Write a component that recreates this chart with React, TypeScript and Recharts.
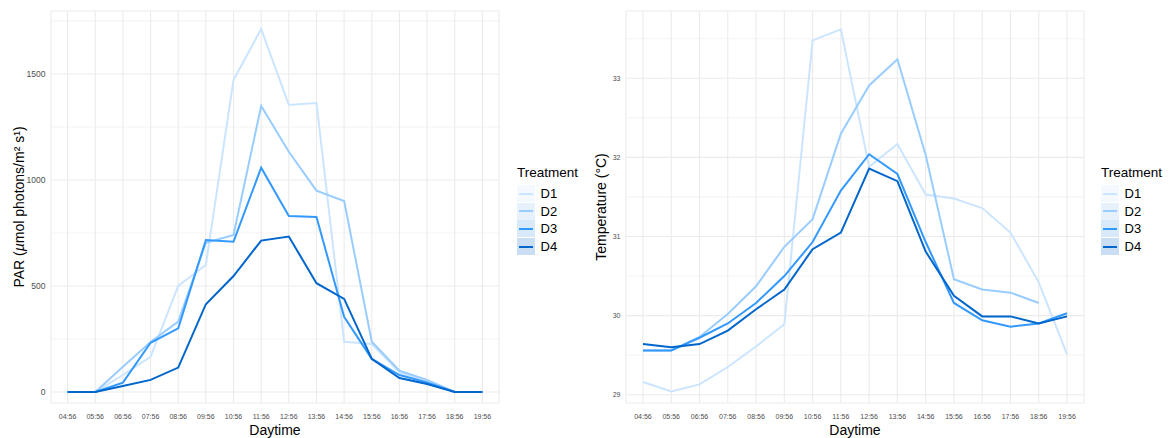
import { LineChart, Line, XAxis, YAxis, CartesianGrid, Legend } from "recharts";

/* ── data ── */

const times = [
  "04:56", "05:56", "06:56", "07:56", "08:56", "09:56", "10:56", "11:56",
  "12:56", "13:56", "14:56", "15:56", "16:56", "17:56", "18:56", "19:56",
];

const treatments = ["D1", "D2", "D3", "D4"];

// PAR (µmol photons/m² s¹)
const parD1 = [0, 0, 80, 166, 500, 599, 1472, 1712, 1354, 1363, 237, 226, 92, 48, 0, 0];
const parD2 = [0, 0, 119, 236, 332, 704, 741, 1349, 1133, 950, 901, 237, 100, 57, 0, 0];
const parD3 = [0, 0, 44, 232, 300, 717, 709, 1058, 830, 825, 355, 156, 80, 45, 0, 0];
const parD4 = [0, 0, 28, 57, 115, 414, 547, 714, 733, 513, 439, 156, 66, 38, 0, 0];

// Temperature (°C)
const tempD1 = [29.16, 29.04, 29.13, 29.35, 29.61, 29.89, 33.48, 33.62, 31.88, 32.17, 31.53, 31.48, 31.36, 31.05, 30.42, 29.51];
const tempD2 = [29.56, 29.56, 29.73, 30.02, 30.37, 30.87, 31.22, 32.3, 32.91, 33.24, 32.03, 30.46, 30.33, 30.29, 30.16, null];
const tempD3 = [29.56, 29.56, 29.72, 29.9, 30.16, 30.5, 30.93, 31.58, 32.04, 31.79, 30.93, 30.16, 29.94, 29.86, 29.9, 30.03];
const tempD4 = [29.64, 29.6, 29.64, 29.81, 30.08, 30.33, 30.84, 31.05, 31.86, 31.7, 30.81, 30.25, 29.99, 29.99, 29.9, 29.99];

const parTicks = [0, 500, 1000, 1500];
const parMinor = [250, 750, 1250, 1750];
const tempTicks = [29, 30, 31, 32, 33];
const tempMinor = [29.5, 30.5, 31.5, 32.5, 33.5];

/* ── styling ── */

const FONT = "'Liberation Sans', Arial, Helvetica, sans-serif";
const COLORS: Record<string, string> = {
  D1: "#cce5ff",
  D2: "#99ccff",
  D3: "#3399ff",
  D4: "#0066cc",
};
const KEY_BG: Record<string, string> = {
  D1: "#f4f9ff",
  D2: "#e6f1fc",
  D3: "#d8e9fa",
  D4: "#c9ddf3",
};
const GRID = "#ebebeb";
const xTicks = times.map((_, i) => i);

function buildRows(series: (number | null)[][]) {
  return times.map((t, i) => {
    const row: Record<string, number | string | null> = { x: i, t };
    treatments.forEach((name, k) => {
      row[name] = series[k][i];
    });
    return row;
  });
}

const parRows = buildRows([parD1, parD2, parD3, parD4]);
const tempRows = buildRows([tempD1, tempD2, tempD3, tempD4]);

function TreatmentLegend(props: any) {
  const payload = props.payload ?? [];
  return (
    <div style={{ fontFamily: FONT, color: "#000" }}>
      <div style={{ fontSize: 13.5, lineHeight: "15px", marginBottom: 5 }}>Treatment</div>
      {payload.map((entry: any) => (
        <div
          key={entry.value}
          style={{ display: "flex", alignItems: "center", height: 17.6 }}
        >
          <div
            style={{
              width: 17.6,
              height: 17,
              background: KEY_BG[entry.value],
              position: "relative",
            }}
          >
            <div
              style={{
                position: "absolute",
                left: 2,
                right: 2,
                top: 7.5,
                height: 2,
                background: entry.color,
              }}
            />
          </div>
          <span style={{ marginLeft: 6, fontSize: 13 }}>{entry.value}</span>
        </div>
      ))}
    </div>
  );
}

// rotated y-axis title, baseline sitting `gap` px left of the plot edge
function yTitle(content: React.ReactNode, gap: number) {
  return (props: any) => {
    const vb = props.viewBox ?? { x: 0, y: 11, width: 30, height: 392 };
    const cx = vb.x + vb.width - gap;
    const cy = vb.y + vb.height / 2;
    return (
      <text
        x={cx}
        y={cy}
        transform={`rotate(-90, ${cx}, ${cy})`}
        textAnchor="middle"
        fontSize={14}
        fontFamily={FONT}
        fill="#000"
      >
        {content}
      </text>
    );
  };
}

function xTitle(props: any) {
  const vb = props.viewBox ?? { x: 0, y: 403, width: 448, height: 30 };
  return (
    <text
      x={vb.x + vb.width / 2}
      y={vb.y + 31.5}
      textAnchor="middle"
      fontSize={14}
      fontFamily={FONT}
      fill="#000"
    >
      Daytime
    </text>
  );
}

function Panel({
  rows,
  domain,
  ticks,
  minor,
  tickFont,
  title,
  titleGap,
  margin,
  width,
  legendLeft,
}: {
  rows: Record<string, number | string | null>[];
  domain: [number, number];
  ticks: number[];
  minor: number[];
  tickFont: number;
  title: React.ReactNode;
  titleGap: number;
  margin: { top: number; right: number; bottom: number; left: number };
  width: number;
  legendLeft: number;
}) {
  return (
    <LineChart width={width} height={438} data={rows} margin={margin}>
      <CartesianGrid
        horizontalValues={minor}
        vertical={false}
        stroke={GRID}
        strokeWidth={0.6}
      />
      <CartesianGrid stroke={GRID} strokeWidth={1.1} />
      <XAxis
        dataKey="x"
        type="number"
        domain={[-0.6, 15.6]}
        ticks={xTicks}
        interval={0}
        tickFormatter={(v: number) => times[v]}
        height={30}
        axisLine={false}
        tickLine={false}
        tickSize={0}
        tickMargin={11.5}
        tick={{ fontSize: 7, fill: "#4d4d4d", fontFamily: FONT }}
        label={{ content: xTitle }}
      />
      <YAxis
        type="number"
        domain={domain}
        ticks={ticks}
        allowDataOverflow
        width={30}
        axisLine={false}
        tickLine={false}
        tickSize={0}
        tickMargin={5.5}
        tick={{ fontSize: tickFont, fill: "#4d4d4d", fontFamily: FONT }}
        label={{ content: yTitle(title, titleGap) }}
      />
      <Legend
        layout="vertical"
        align="right"
        verticalAlign="middle"
        width={70}
        wrapperStyle={{ left: legendLeft, top: 165, width: 70 }}
        content={<TreatmentLegend />}
      />
      {treatments.map((name) => (
        <Line
          key={name}
          type="linear"
          dataKey={name}
          stroke={COLORS[name]}
          strokeWidth={2}
          dot={false}
          activeDot={false}
          isAnimationActive={false}
        />
      ))}
    </LineChart>
  );
}

export default function App() {
  const parTitle = (
    <>
      PAR (<tspan fontStyle="italic">µ</tspan>mol photons/m² s¹)
    </>
  );
  return (
    <div
      style={{
        position: "absolute",
        left: 0,
        top: 0,
        width: 1169,
        height: 438,
        background: "#fff",
        fontFamily: FONT,
      }}
    >
      <div style={{ position: "absolute", left: 0, top: 0 }}>
        <Panel
          rows={parRows}
          domain={[-52, 1797]}
          ticks={parTicks}
          minor={parMinor}
          tickFont={8.5}
          title={parTitle}
          titleGap={27}
          margin={{ top: 11, right: 16, bottom: 5, left: 21 }}
          width={585}
          legendLeft={517}
        />
      </div>
      <div style={{ position: "absolute", left: 585, top: 0 }}>
        <Panel
          rows={tempRows}
          domain={[28.895, 33.851]}
          ticks={tempTicks}
          minor={tempMinor}
          tickFont={7}
          title="Temperature (°C)"
          titleGap={20.5}
          margin={{ top: 11, right: 15, bottom: 5, left: 11 }}
          width={584}
          legendLeft={516}
        />
      </div>
    </div>
  );
}
